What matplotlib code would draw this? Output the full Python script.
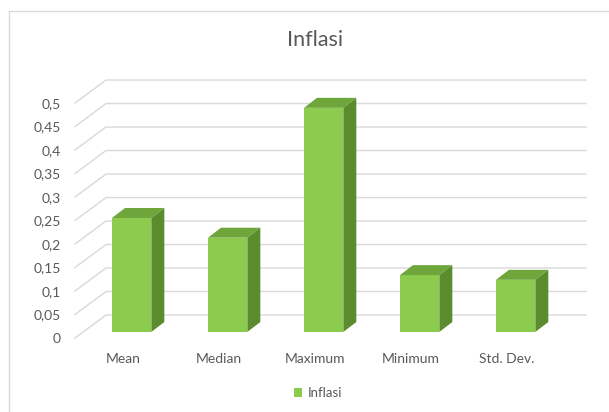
import matplotlib
matplotlib.use("Agg")
import matplotlib.pyplot as plt
from matplotlib.patches import Polygon, Rectangle, Patch

# ---------------------------------------------------------------------------
# Data
# ---------------------------------------------------------------------------
categories = ["Mean", "Median", "Maximum", "Minimum", "Std. Dev."]
values = [0.2426, 0.2006, 0.477, 0.121, 0.111]
yticks = [0, 0.05, 0.1, 0.15, 0.2, 0.25, 0.3, 0.35, 0.4, 0.45, 0.5]
ytick_labels = ["0", "0,05", "0,1", "0,15", "0,2", "0,25", "0,3", "0,35", "0,4", "0,45", "0,5"]
series_name = "Inflasi"

# ---------------------------------------------------------------------------
# Pseudo-3D geometry (in data units)
# ---------------------------------------------------------------------------
W, H = 609, 412
DX, DY = 31 / 96, 23 / 470       # full floor depth
BAR_W = 0.41
BAR_DX, BAR_DY = 13 / 96, 10 / 470  # bar depth
OFF_X, OFF_Y = 0.09, 0.0128         # bar front face position inside the floor

C_FRONT = "#8DCB4F"
C_TOP = "#6FA63C"
C_SIDE = "#5A8C2D"
C_GRID = "#D9D9D9"
C_TEXT = "#595959"

plt.rcParams["font.family"] = ["Lato", "DejaVu Sans"]

fig = plt.figure(figsize=(W / 100, H / 100), dpi=100)
ax = fig.add_axes([75 / W, 1 - 338 / H, (586 - 75) / W, (338 - 80) / H])
ax.set_xlim(-0.5, 4.5 + DX)
ax.set_ylim(0, 0.5 + DY + 0.0001)

# gridlines: diagonal on the side, horizontal on the back wall
for v in yticks:
    ax.plot([-0.5, -0.5 + DX, 4.5 + DX], [v, v + DY, v + DY],
            color=C_GRID, lw=1, clip_on=False, zorder=1)

x = list(range(len(categories)))
xf = [i + OFF_X for i in x]
ax.bar(xf, values, width=BAR_W, bottom=OFF_Y, color=C_FRONT, zorder=3)

for xi, v in zip(xf, values):
    x0, x1 = xi - BAR_W / 2, xi + BAR_W / 2
    top = v + OFF_Y
    ax.add_patch(Polygon([(x0, top), (x1, top), (x1 + BAR_DX, top + BAR_DY),
                          (x0 + BAR_DX, top + BAR_DY)],
                         closed=True, facecolor=C_TOP, edgecolor="none", zorder=3))
    ax.add_patch(Polygon([(x1, OFF_Y), (x1 + BAR_DX, OFF_Y + BAR_DY),
                          (x1 + BAR_DX, top + BAR_DY), (x1, top)],
                         closed=True, facecolor=C_SIDE, edgecolor="none", zorder=3))

ax.set_yticks(yticks)
ax.set_yticklabels(ytick_labels)
ax.set_xticks(x)
ax.set_xticklabels(categories)
ax.tick_params(axis="y", length=0, pad=10, labelsize=10, labelcolor=C_TEXT)
ax.tick_params(axis="x", length=0, pad=11, labelsize=10, labelcolor=C_TEXT)
for s in ax.spines.values():
    s.set_visible(False)
ax.patch.set_alpha(0)

fig.text(315 / W, 1 - 40 / H, series_name, ha="center", va="center",
         fontsize=15.5, color=C_TEXT)

fig.legend(handles=[Patch(facecolor=C_FRONT, label=series_name)],
           loc="center", bbox_to_anchor=(318 / W, 1 - 393 / H), frameon=False,
           fontsize=9.5, labelcolor=C_TEXT, handlelength=0.6, handleheight=0.6,
           handletextpad=0.4)

# chart frame
fig.patches.append(Rectangle((9 / W, -0.1), 1.2, 1 - 11 / H + 0.1,
                             transform=fig.transFigure, fill=False,
                             edgecolor=C_GRID, lw=1))

fig.savefig("out.png", dpi=100)
